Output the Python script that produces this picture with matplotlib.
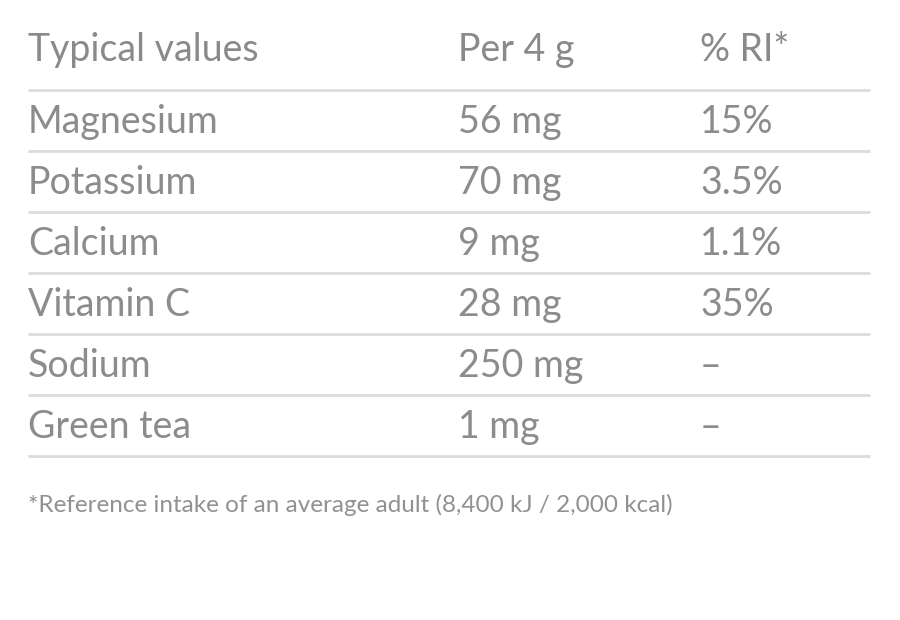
import matplotlib
matplotlib.use("Agg")
import matplotlib.pyplot as plt

headers = ["Typical values", "Per 4 g", "% RI*"]
nutrients = ["Magnesium", "Potassium", "Calcium", "Vitamin C", "Sodium", "Green tea"]
amounts = ["56 mg", "70 mg", "9 mg", "28 mg", "250 mg", "1 mg"]
ri = ["15%", "3.5%", "1.1%", "35%", "–", "–"]
footnote = "*Reference intake of an average adult (8,400 kJ / 2,000 kcal)"

fig = plt.figure(figsize=(9, 6.2), dpi=100)
ax = fig.add_axes([0, 0, 1, 1])
ax.set_xlim(0, 900); ax.set_ylim(620, 0); ax.axis("off")

cols = [28, 458, 700]
fam = ["Lato", "DejaVu Sans"]
txt = "#8c8c8c"
for x, h in zip(cols, headers):
    ax.text(x, 50, h, fontsize=27, color="#8a8a8a", va="center", ha="left", family=fam)
lines = [90 + 61 * i for i in range(7)]
for y in lines:
    ax.plot([28, 870], [y, y], color="#dcdcdc", lw=2, solid_capstyle="butt")
for i, row in enumerate(zip(nutrients, amounts, ri)):
    yc = lines[i] + 32
    for x, t in zip(cols, row):
        ax.text(x, yc, t, fontsize=27, color=txt, va="center", ha="left", family=fam)
ax.text(28, 505, footnote, fontsize=17.5, color="#919191", va="center", ha="left", family=fam)
fig.savefig("out.png", dpi=100, facecolor="white")
